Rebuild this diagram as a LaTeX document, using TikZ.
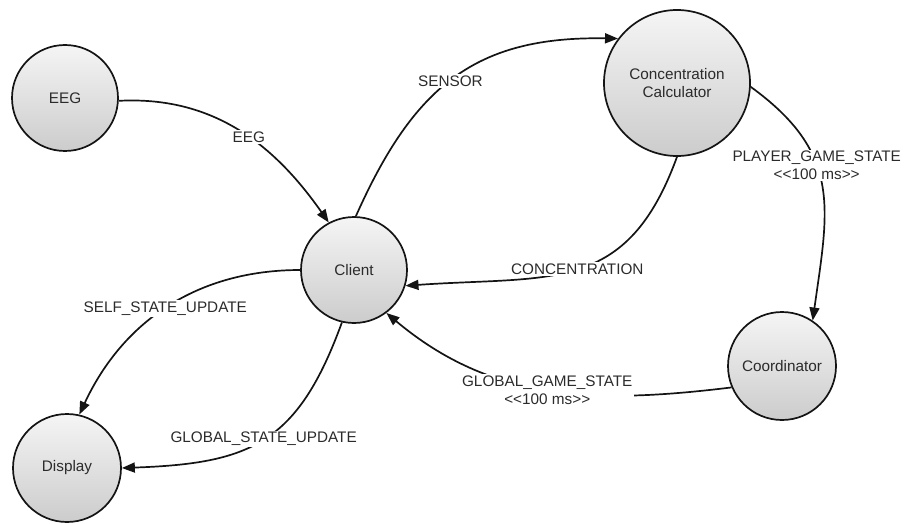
\documentclass[tikz,border=0pt]{standalone}
\usepackage{fontspec}
\setmainfont{Liberation Sans}
\usetikzlibrary{arrows.meta}
\definecolor{txt}{HTML}{2B2B2B}
\definecolor{edge}{HTML}{141414}
\begin{document}
\begin{tikzpicture}[x=1pt,y=1pt,
  font=\fontsize{15.3}{18}\selectfont,
  state/.style={circle, draw=edge, line width=1.7pt, top color=white!96!black, bottom color=white!80!black,
    text=txt, align=center, inner sep=0pt, minimum size=106pt},
  big/.style={minimum size=146pt},
  flow/.style={draw=edge, line width=1.7pt, -{Triangle[length=13pt,width=10pt]}},
  lab/.style={fill=white, text=txt, align=center, inner sep=1.5pt}
]
\useasboundingbox (0,0) rectangle (909,523);
\node[state] (eeg) at (65,425) {EEG};
\node[state] (client) at (354,253) {Client};
\node[state,big] (calc) at (677,440) {Concentration\\Calculator};
\node[state,minimum size=108pt] (coord) at (782,157) {Coordinator};
\node[state,minimum size=108pt] (disp) at (67,55) {Display};

\draw[flow] (eeg.-3) to[out=3, in=125] node[lab, pos=0.55] {EEG} (client.118);
\draw[flow] (client.88) to[out=66, in=179, looseness=1.15] node[lab, pos=0.48] {SENSOR} (calc.143);
\draw[flow] (calc.-90) to[out=-110, in=4, looseness=1.25] node[lab, pos=0.5] {CONCENTRATION} (client.-17);
\draw[flow] (calc.-3) to[out=-36, in=82, looseness=1.2] node[lab, pos=0.4] {PLAYER\_GAME\_STATE\\{<}{<}100 ms{>}{>}} (coord.56);
\draw[flow] (coord.203) to[out=187, in=-40] node[lab, pos=0.5] {GLOBAL\_GAME\_STATE\\{<}{<}100 ms{>}{>}} (client.-53);
\draw[flow] (client.180) to[out=180, in=65] node[lab, pos=0.51] {SELF\_STATE\_UPDATE} (disp.77);
\draw[flow] (client.257) to[out=250, in=2, looseness=1.25] node[lab, pos=0.5] {GLOBAL\_STATE\_UPDATE} (disp.0);
\end{tikzpicture}
\end{document}
